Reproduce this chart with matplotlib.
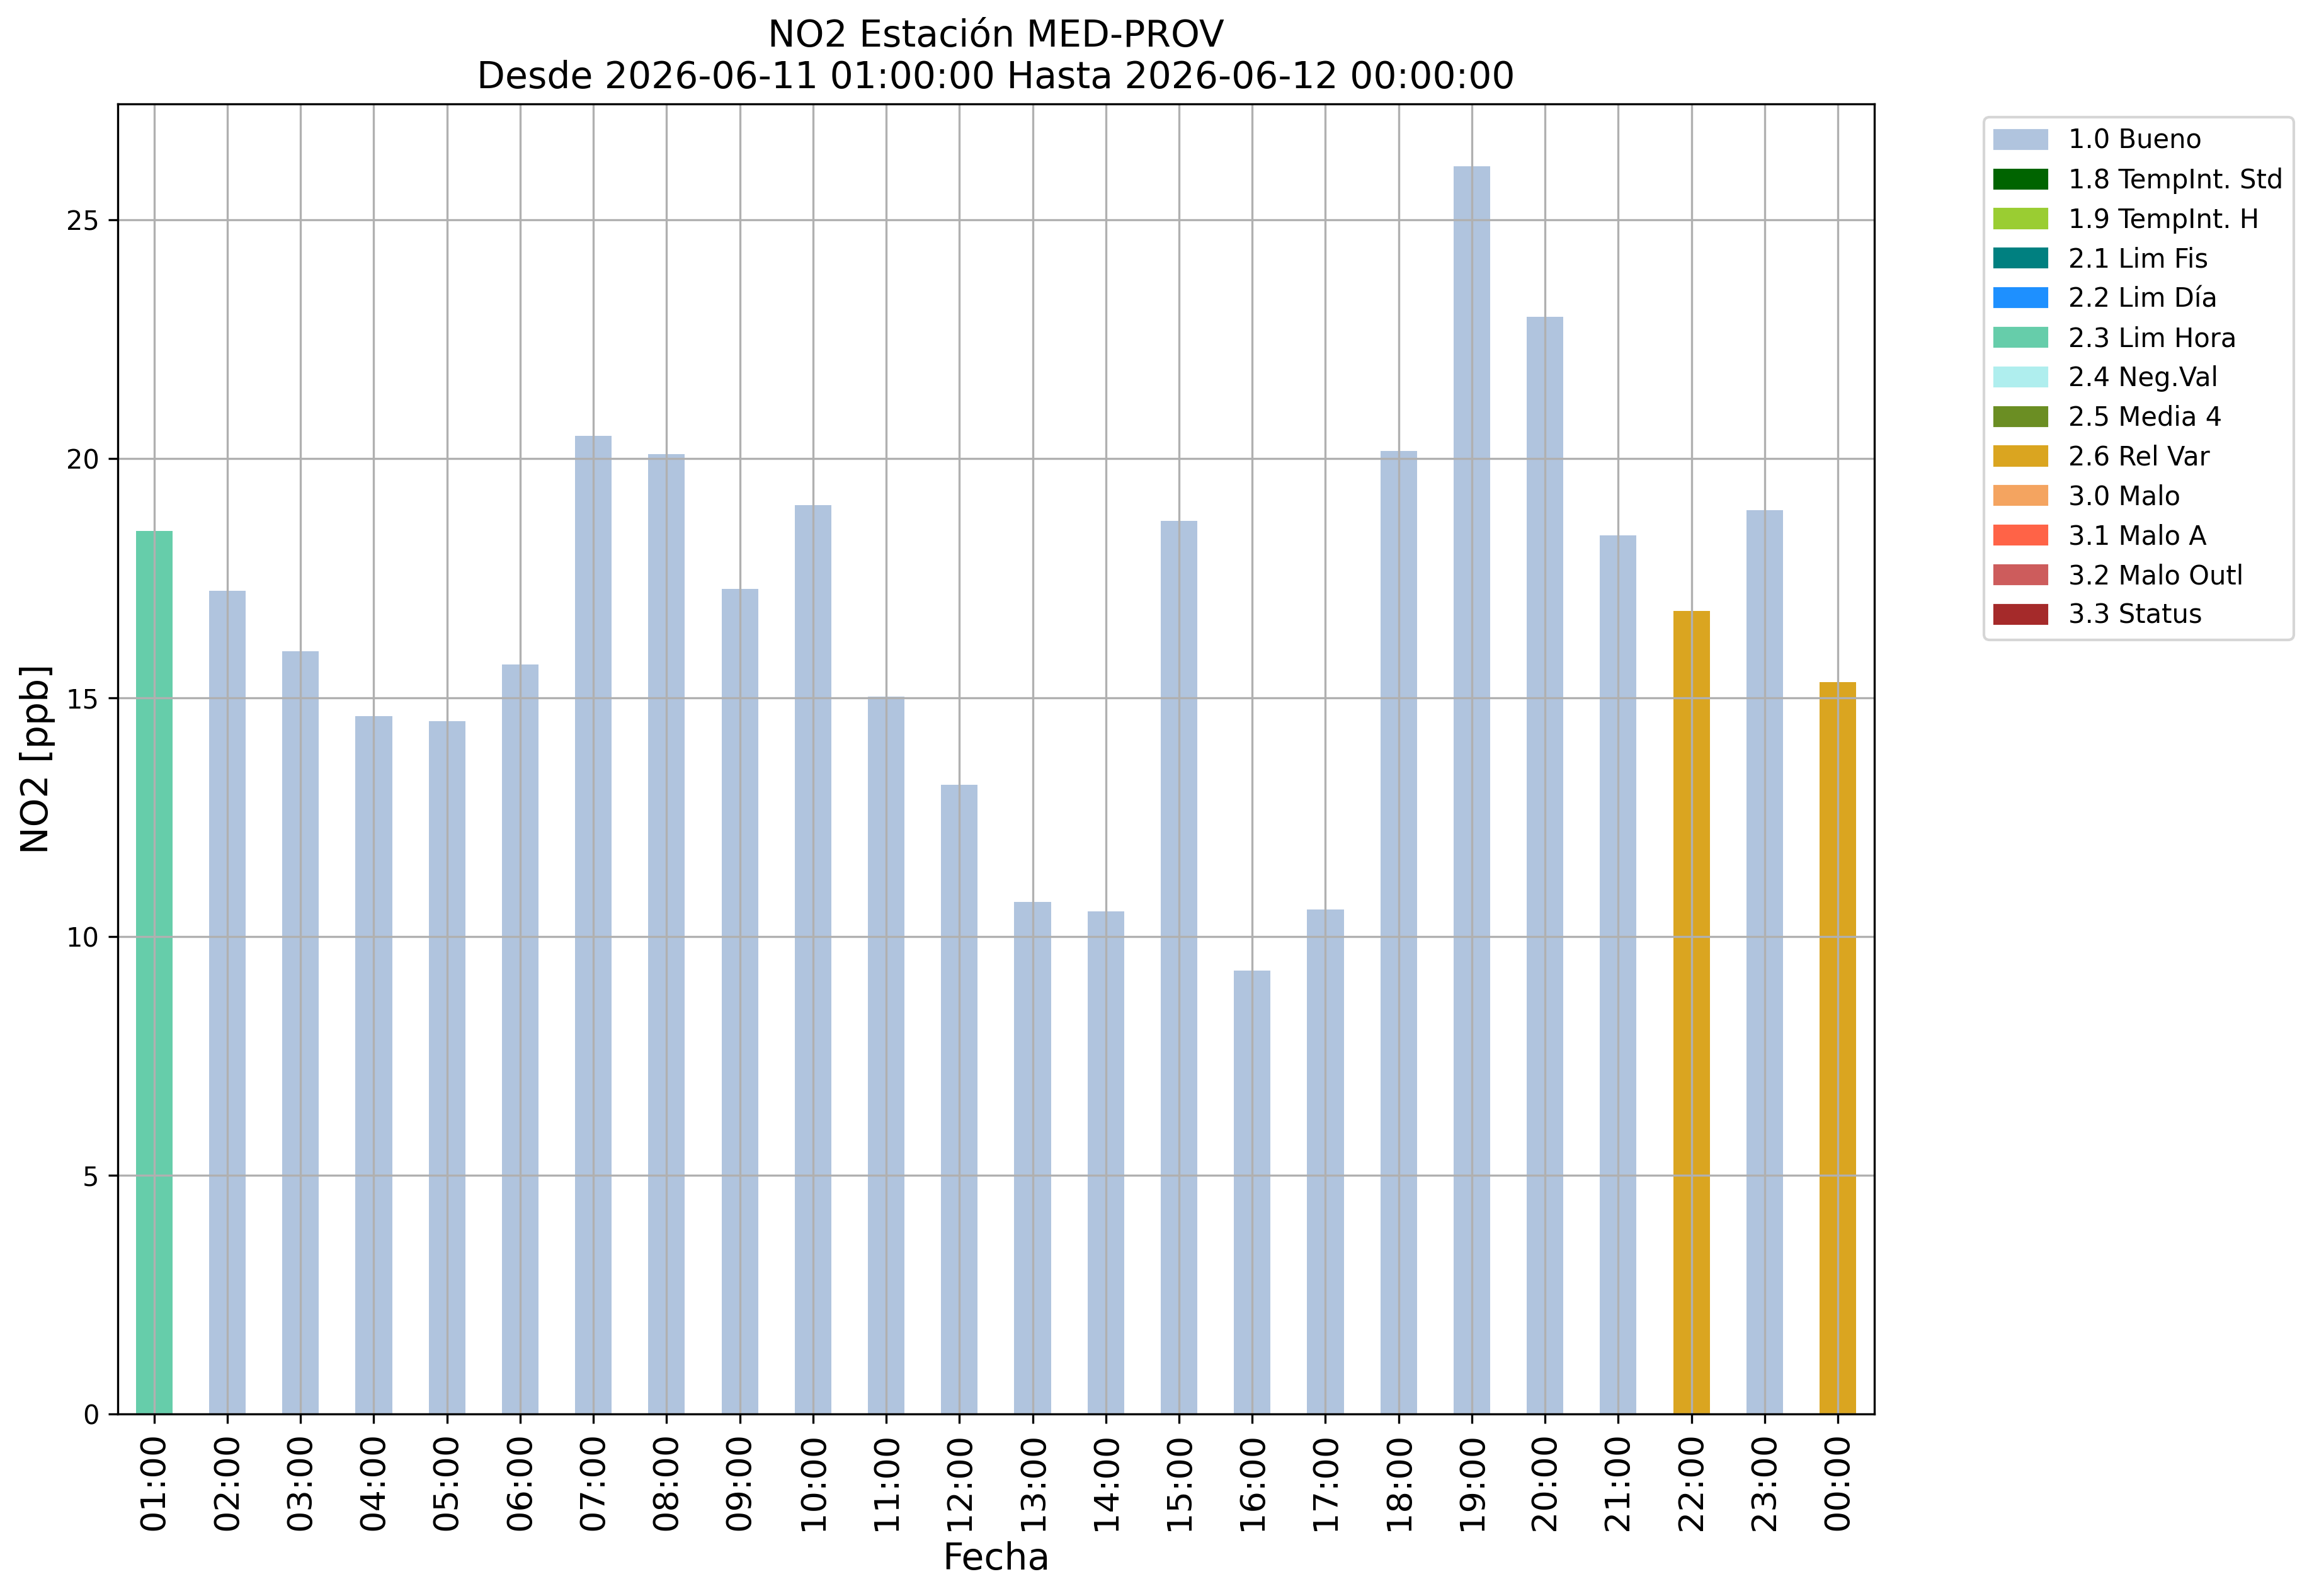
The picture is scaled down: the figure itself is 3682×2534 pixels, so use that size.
import numpy as np
import matplotlib
matplotlib.use('Agg')
import matplotlib.pyplot as plt
from matplotlib.patches import Patch

horas = ['01:00', '02:00', '03:00', '04:00', '05:00', '06:00', '07:00', '08:00',
         '09:00', '10:00', '11:00', '12:00', '13:00', '14:00', '15:00', '16:00',
         '17:00', '18:00', '19:00', '20:00', '21:00', '22:00', '23:00', '00:00']
no2 = [18.49, 17.24, 15.97, 14.61, 14.51, 15.69, 20.48, 20.10,
       17.27, 19.03, 15.02, 13.17, 10.72, 10.53, 18.70, 9.29,
       10.56, 20.16, 26.12, 22.97, 18.40, 16.81, 18.92, 15.32]
flag = ['2.3', '1.0', '1.0', '1.0', '1.0', '1.0', '1.0', '1.0',
        '1.0', '1.0', '1.0', '1.0', '1.0', '1.0', '1.0', '1.0',
        '1.0', '1.0', '1.0', '1.0', '1.0', '2.6', '1.0', '2.6']

flag_codes = ['1.0', '1.8', '1.9', '2.1', '2.2', '2.3', '2.4', '2.5', '2.6',
              '3.0', '3.1', '3.2', '3.3']
flag_names = ['1.0 Bueno', '1.8 TempInt. Std', '1.9 TempInt. H', '2.1 Lim Fis',
              '2.2 Lim Día', '2.3 Lim Hora', '2.4 Neg.Val', '2.5 Media 4',
              '2.6 Rel Var', '3.0 Malo', '3.1 Malo A', '3.2 Malo Outl', '3.3 Status']
flag_colors = ['lightsteelblue', 'darkgreen', 'yellowgreen', 'teal', 'dodgerblue',
               'mediumaquamarine', 'paleturquoise', 'olivedrab', 'goldenrod',
               'sandybrown', 'tomato', 'indianred', 'brown']
colores = dict(zip(flag_codes, flag_colors))

fig = plt.figure(figsize=(3682/300, 2534/300), dpi=300)
ax = fig.add_axes([0.0507, 0.1141, 0.7576, 0.8206])

x = np.arange(len(horas))
ax.bar(x, no2, width=0.5, color=[colores[f] for f in flag])
ax.set_xlim(-0.5, len(horas) - 0.5)
ax.set_xticks(x)
ax.set_xticklabels(horas, rotation=90, fontsize=13)
ax.tick_params(axis='y', labelsize=10)
ax.grid(True)

ax.set_xlabel('Fecha', fontsize=14)
ax.set_ylabel('NO2 [ppb]', fontsize=14)
ax.set_title('NO2 Estación MED-PROV\nDesde 2026-06-11 01:00:00 Hasta 2026-06-12 00:00:00',
             fontsize=14)

handles = [Patch(color=c, label=n) for c, n in zip(flag_colors, flag_names)]
ax.legend(handles=handles, bbox_to_anchor=(1.055, 1), loc='upper left', fontsize=10)

fig.savefig('out.png', dpi=300)
